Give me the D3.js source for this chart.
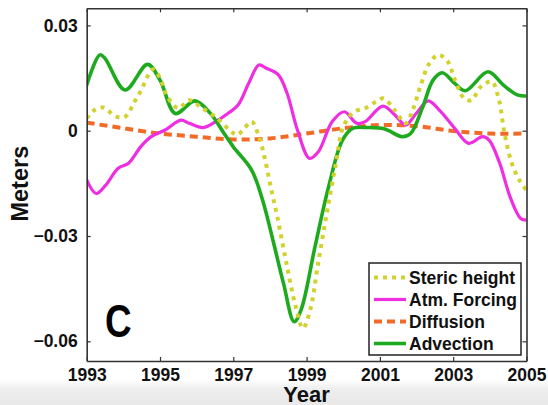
<!DOCTYPE html>
<html>
<head>
<meta charset="utf-8">
<script src="https://cdn.jsdelivr.net/npm/d3@7"></script>
<style>
  html, body { margin: 0; padding: 0; background: #fff; }
  svg { display: block; }
  text { font-family: "Liberation Sans", Arial, sans-serif; }
</style>
</head>
<body>
<svg id="chart" width="548" height="405"></svg>
<script>
// ---------- DATA ----------
const xTicks = [1993, 1995, 1997, 1999, 2001, 2003, 2005];
const yTicks = [0.03, 0, -0.03, -0.06];
const yTickLabels = ["0.03", "0", "\u22120.03", "\u22120.06"];

const seriesNames = ["Steric height", "Atm. Forcing", "Diffusion", "Advection"];

const stericYears = [1993.0, 1993.2, 1993.45, 1993.8, 1994.05, 1994.3, 1994.5, 1994.66, 1994.82, 1995.0, 1995.2, 1995.5, 1995.8, 1996.1, 1996.5, 1996.9, 1997.1, 1997.3, 1997.5, 1997.7, 1997.85, 1998.0, 1998.2, 1998.45, 1998.7, 1998.9, 1999.1, 1999.3, 1999.55, 1999.8, 2000.0, 2000.3, 2000.6, 2000.9, 2001.1, 2001.4, 2001.7, 2001.9, 2002.1, 2002.35, 2002.6, 2002.85, 2003.05, 2003.3, 2003.5, 2003.75, 2004.05, 2004.25, 2004.4, 2004.6, 2004.8, 2005.0];
const stericValues = [0.0035, 0.0058, 0.0066, 0.0040, 0.0040, 0.0082, 0.0118, 0.0155, 0.0175, 0.0150, 0.0097, 0.0064, 0.0087, 0.0068, 0.0040, 0.0002, -0.0012, 0.0007, 0.0026, -0.0017, -0.0074, -0.0150, -0.0245, -0.0378, -0.0500, -0.0563, -0.0510, -0.0387, -0.0235, -0.0093, 0.0011, 0.0054, 0.0064, 0.0083, 0.0092, 0.0059, 0.0021, 0.0060, 0.0125, 0.0192, 0.0216, 0.0197, 0.0144, 0.0092, 0.0087, 0.0125, 0.0140, 0.0087, -0.0008, -0.0093, -0.0140, -0.0170];

const atmYears = [1993.0, 1993.26, 1993.52, 1993.86, 1994.14, 1994.47, 1994.76, 1995.14, 1995.57, 1995.8, 1996.18, 1996.52, 1996.85, 1997.13, 1997.42, 1997.7, 1997.9, 1998.23, 1998.47, 1998.75, 1999.08, 1999.32, 1999.7, 2000.03, 2000.37, 2000.6, 2001.08, 2001.41, 2001.7, 2001.99, 2002.32, 2002.66, 2003.04, 2003.42, 2003.8, 2003.98, 2004.27, 2004.55, 2004.84, 2005.0];
const atmValues = [-0.0140, -0.0179, -0.0155, -0.0107, -0.0093, -0.0046, -0.0017, 0.0002, 0.0030, 0.0021, 0.0009, 0.0026, 0.0049, 0.0073, 0.0135, 0.0187, 0.0178, 0.0159, 0.0106, 0.0002, -0.0079, -0.0060, 0.0026, 0.0054, 0.0021, 0.0026, 0.0070, 0.0045, 0.0016, 0.0049, 0.0085, 0.0054, 0.0007, -0.0036, -0.0017, -0.0027, -0.0093, -0.0188, -0.0250, -0.0255];

const diffYears = [1993, 1994, 1995, 1996, 1997, 1998, 1999, 2000, 2001, 2002, 2003, 2004, 2005];
const diffValues = [0.0023, 0.0007, -0.0008, -0.0017, -0.0025, -0.0022, -0.0008, 0.0007, 0.0016, 0.0013, -0.0001, -0.0008, -0.0008];

const advYears = [1993.0, 1993.36, 1993.5, 1994.05, 1994.66, 1995.0, 1995.42, 1995.95, 1996.37, 1996.75, 1997.0, 1997.5, 1997.8, 1998.1, 1998.37, 1998.66, 1998.85, 1999.23, 1999.6, 1999.98, 2000.27, 2000.65, 2001.13, 2001.6, 2001.84, 2002.17, 2002.45, 2002.7, 2003.04, 2003.33, 2003.95, 2004.37, 2004.75, 2005.0];
const advValues = [0.0130, 0.0216, 0.0206, 0.0116, 0.0189, 0.0144, 0.0049, 0.0085, 0.0050, -0.0008, -0.0046, -0.0112, -0.0198, -0.0320, -0.0435, -0.0544, -0.0510, -0.0330, -0.0160, -0.0027, 0.0007, 0.0009, 0.0005, -0.0017, -0.0008, 0.0068, 0.0144, 0.0165, 0.0135, 0.0114, 0.0168, 0.0130, 0.0102, 0.0099];

const seriesColors = ["#d2d22e", "#ee2ee0", "#f26a28", "#1eaa1e"];

// ---------- LAYOUT ----------
const svg = d3.select("#chart");
const W = 548, H = 405;
const plot = { left: 86.7, right: 526.5, top: 8.3, bottom: 361 };

const x = d3.scaleLinear().domain([1993, 2005]).range([plot.left, plot.right]);
const y = d3.scaleLinear().domain([-0.06561, 0.03487]).range([plot.bottom, plot.top]);

// bottom grey band (photo background)
const defs = svg.append("defs");
const grad = defs.append("linearGradient").attr("id", "bg").attr("x1", 0).attr("x2", 0).attr("y1", 0).attr("y2", 1);
grad.append("stop").attr("offset", "0%").attr("stop-color", "#ffffff");
grad.append("stop").attr("offset", "35%").attr("stop-color", "#eeeeee");
grad.append("stop").attr("offset", "100%").attr("stop-color", "#e8e8e8");
svg.append("rect").attr("x", 0).attr("y", 380).attr("width", W).attr("height", H - 380).attr("fill", "url(#bg)");

defs.append("clipPath").attr("id", "clip").append("rect")
  .attr("x", plot.left).attr("y", plot.top)
  .attr("width", plot.right - plot.left).attr("height", plot.bottom - plot.top);

// plot background
svg.append("rect").attr("x", plot.left).attr("y", plot.top)
  .attr("width", plot.right - plot.left).attr("height", plot.bottom - plot.top).attr("fill", "#fff");

// ---------- LINES ----------
const line = d3.line().x(d => x(d[0])).y(d => y(d[1])).curve(d3.curveCatmullRom.alpha(0.5));
const zipS = (a, b) => a.map((v, i) => [v, b[i]]);

const lines = svg.append("g").attr("clip-path", "url(#clip)");
const seriesData = [
  { name: seriesNames[2], data: zipS(diffYears, diffValues), color: seriesColors[2], width: 4, dash: "8,5", cap: "butt" },
  { name: seriesNames[1], data: zipS(atmYears, atmValues), color: seriesColors[1], width: 3.2, dash: null, cap: "round" },
  { name: seriesNames[3], data: zipS(advYears, advValues), color: seriesColors[3], width: 3.6, dash: null, cap: "round" },
  { name: seriesNames[0], data: zipS(stericYears, stericValues), color: seriesColors[0], width: 4, dash: "4,5", cap: "butt" }
];
lines.selectAll("path.series").data(seriesData).join("path")
  .attr("class", "series")
  .attr("d", d => line(d.data))
  .attr("fill", "none")
  .attr("stroke", d => d.color)
  .attr("stroke-width", d => d.width)
  .attr("stroke-dasharray", d => d.dash)
  .attr("stroke-linecap", d => d.cap)
  .attr("stroke-linejoin", "round");

// ---------- AXES ----------
const axisColor = "#333";
const axB = svg.append("g").attr("transform", `translate(0,${plot.bottom})`)
  .call(d3.axisBottom(x).tickValues(xTicks).tickFormat(d3.format("d")).tickSizeInner(-4).tickSizeOuter(0).tickPadding(8));
const axT = svg.append("g").attr("transform", `translate(0,${plot.top})`)
  .call(d3.axisTop(x).tickValues(xTicks).tickFormat("").tickSizeInner(-4).tickSizeOuter(0));
const axL = svg.append("g").attr("transform", `translate(${plot.left},0)`)
  .call(d3.axisLeft(y).tickValues(yTicks).tickFormat((d, i) => yTickLabels[i]).tickSizeInner(-4).tickSizeOuter(0).tickPadding(9));
const axR = svg.append("g").attr("transform", `translate(${plot.right},0)`)
  .call(d3.axisRight(y).tickValues(yTicks).tickFormat("").tickSizeInner(-4).tickSizeOuter(0));

[axB, axT, axL, axR].forEach(a => {
  a.select(".domain").attr("stroke", axisColor).attr("stroke-width", 1.6);
  a.selectAll(".tick line").attr("stroke", axisColor).attr("stroke-width", 1.2);
  a.selectAll(".tick text").attr("fill", "#111").attr("font-size", 17.5).attr("font-weight", "bold")
    .attr("font-family", "'Liberation Sans', Arial, sans-serif");
});
axB.selectAll(".tick text").attr("dy", "0.7em");
axL.selectAll(".tick text").attr("dx", "0");

// axis titles
svg.append("text").attr("x", x(1999)).attr("y", 401.5)
  .attr("text-anchor", "middle").attr("font-size", 22).attr("font-weight", "bold").attr("fill", "#111")
  .text("Year");
svg.append("text").attr("transform", `translate(28,${(plot.top + plot.bottom) / 2 - 1}) rotate(-90)`)
  .attr("text-anchor", "middle").attr("font-size", 23.5).attr("font-weight", "bold").attr("fill", "#111")
  .text("Meters");

// panel letter
svg.append("text").attr("transform", "translate(105,337) scale(0.8,1)")
  .attr("font-size", 46).attr("font-weight", "bold").attr("fill", "#000")
  .attr("font-family", "'DejaVu Sans', 'Liberation Sans', sans-serif")
  .text("C");

// ---------- LEGEND ----------
const leg = { x: 369, y: 263, w: 152, h: 92 };
const lg = svg.append("g");
lg.append("rect").attr("x", leg.x).attr("y", leg.y).attr("width", leg.w).attr("height", leg.h)
  .attr("fill", "#fff").attr("stroke", "#222").attr("stroke-width", 1.5);
const legendOrder = [0, 1, 2, 3];
const legendStyles = seriesNames.map(n => seriesData.find(s => s.name === n));
const rowY = d3.scaleLinear().domain([0, 3]).range([leg.y + 14.5, leg.y + 80.5]);
legendOrder.forEach(i => {
  const s = legendStyles[i];
  const yy = rowY(i);
  lg.append("line").attr("x1", leg.x + 5).attr("x2", leg.x + 37).attr("y1", yy).attr("y2", yy)
    .attr("stroke", s.color).attr("stroke-width", s.width).attr("stroke-dasharray", s.dash)
    .attr("stroke-linecap", "butt");
  lg.append("text").attr("x", leg.x + 40).attr("y", yy).attr("dy", "0.36em")
    .attr("font-size", 17.5).attr("font-weight", "bold").attr("fill", "#111")
    .text(seriesNames[i]);
});
</script>
</body>
</html>
